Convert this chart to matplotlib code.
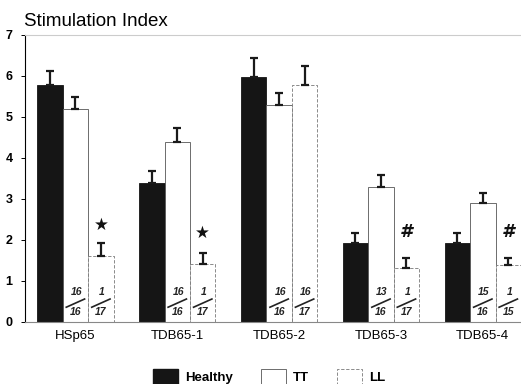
import numpy as np
import matplotlib
matplotlib.use("Agg")
import matplotlib.pyplot as plt
from matplotlib.patches import Patch

plt.rcParams['font.family'] = ['Liberation Sans', 'DejaVu Sans']

# data
antigens = ["HSp65", "TDB65-1", "TDB65-2", "TDB65-3", "TDB65-4"]
healthy = [5.77, 3.40, 5.98, 1.92, 1.92]
healthy_err = [0.35, 0.27, 0.45, 0.26, 0.26]
tt = [5.20, 4.40, 5.28, 3.30, 2.90]
tt_err = [0.29, 0.32, 0.30, 0.29, 0.24]
ll = [1.60, 1.41, 5.78, 1.31, 1.39]
ll_err = [0.33, 0.27, 0.46, 0.25, 0.17]
tt_frac = [("16", "16"), ("16", "16"), ("16", "16"), ("13", "16"), ("15", "16")]
ll_frac = [("1", "17"), ("1", "17"), ("16", "17"), ("1", "17"), ("1", "15")]
marks = ["\u2605", "\u2605", "", "#", "#"]
mark_y = [2.37, 2.17, 0, 2.2, 2.2]

fig = plt.figure(figsize=(5.21, 3.84), dpi=100)
ax = fig.add_axes([0.048, 0.1615, 0.952, 0.7475])

x = np.arange(len(antigens)) * 4
w = 1.0
ekw = dict(elinewidth=1.6, capsize=3, capthick=1.6, ecolor="#1a1a1a")

ax.bar(x, healthy, w, color="#151515", edgecolor="#151515", linewidth=0.6,
       yerr=[np.zeros(5), healthy_err], error_kw=ekw)
ax.bar(x + 1, tt, w, color="white", edgecolor="#555555", linewidth=0.6,
       yerr=[np.zeros(5), tt_err], error_kw=ekw)
ax.bar(x + 2, ll, w, color="white", edgecolor="#777777", linewidth=0.6,
       linestyle=(0, (4, 2)), yerr=[np.zeros(5), ll_err], error_kw=ekw)

# fractions inside TT / LL bars
for i in range(len(antigens)):
    for off, fr in ((1, tt_frac[i]), (2, ll_frac[i])):
        cx = x[i] + off
        ax.plot([cx - 0.36, cx + 0.36], [0.36, 0.56], color="#222222", lw=1.2)
        ax.text(cx + 0.04, 0.74, fr[0], ha="center", va="center",
                fontsize=7.5, style="italic", fontweight="bold", color="#222222")
        ax.text(cx, 0.25, fr[1], ha="center", va="center",
                fontsize=7.5, style="italic", fontweight="bold", color="#222222")
    if marks[i]:
        fs = 13 if marks[i] == "#" else 12
        ax.text(x[i] + 2, mark_y[i], marks[i], ha="center", va="center",
                fontsize=fs, style="italic", fontweight="bold", color="#111111",
                family=["DejaVu Sans"])

ax.set_xlim(-0.98, 18.5)
ax.set_ylim(0, 7)
ax.set_yticks(range(8))
ax.set_yticklabels([str(v) for v in range(8)], fontsize=9, fontweight="bold")
ax.set_xticks(x + 1)
ax.set_xticklabels(antigens, fontsize=9.5)
ax.tick_params(axis="x", length=0, pad=6)
ax.tick_params(axis="y", length=3, width=0.7, pad=6)
ax.spines["right"].set_visible(False)
ax.spines["top"].set_color("#cccccc")
ax.spines["left"].set_linewidth(0.8)
ax.spines["bottom"].set_linewidth(0.8)
ax.spines["bottom"].set_color("#888888")

fig.text(0.046, 0.945, "Stimulation Index", fontsize=13.5, ha="left", va="center")

handles = [Patch(facecolor="#151515", edgecolor="#151515", label="Healthy"),
           Patch(facecolor="white", edgecolor="#555555", lw=0.6, label="TT"),
           Patch(facecolor="white", edgecolor="#777777", lw=0.6,
                 linestyle=(0, (4, 2)), label="LL")]
fig.legend(handles=handles, loc="lower center", bbox_to_anchor=(0.517, -0.035),
           ncol=3, frameon=False,
           prop={"weight": "bold", "size": 9.5}, handlelength=1.9,
           handleheight=1.6, columnspacing=2.1, handletextpad=0.55)

fig.savefig("out.png", dpi=100)
